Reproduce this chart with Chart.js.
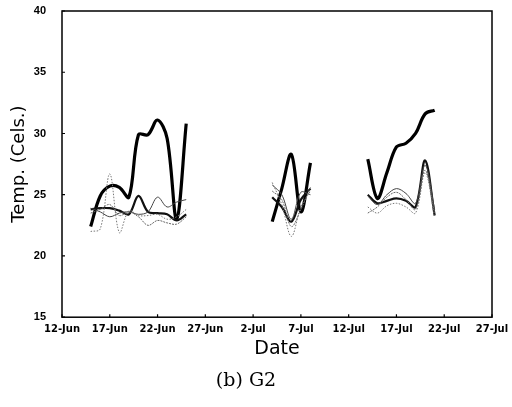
<!DOCTYPE html>
<html>
<head>
<meta charset="utf-8">
<script src="https://cdn.jsdelivr.net/npm/chart.js@4/dist/chart.umd.min.js"></script>
<style>
  html, body { margin: 0; padding: 0; background: #fff; }
  #chart { display: block; }
</style>
</head>
<body>
<canvas id="chart" width="512" height="407"></canvas>
<script>
// x = days after 12-Jun; the null rows split the three logging periods
const days = [3, 4, 5, 6, 7, 8, 9, 10, 11, 12, 13, 17, 22, 23, 24, 25, 26, 29, 32, 33, 34, 35, 36, 37, 38, 39];
const tickLabels = ['12-Jun', '17-Jun', '22-Jun', '27-Jun', '2-Jul', '7-Jul', '12-Jul', '17-Jul', '22-Jul', '27-Jul'];
const yTicks = [15, 20, 25, 30, 35, 40];

const sensorA = [22.4, 24.9, 25.7, 25.6, 24.8, 29.9, 29.9, 31.1, 29.6, 23.0, 30.8, null,
  22.8, 25.5, 28.3, 23.6, 27.6, null, 27.9, 24.7, 26.8, 28.9, 29.2, 30.0, 31.6, 31.9];
const sensorB = [23.8, 23.9, 23.9, 23.7, 23.4, 24.9, 23.6, 23.5, 23.4, 22.9, 23.4, null,
  24.8, 24.0, 22.8, 24.6, 25.5, null, 25.0, 24.3, 24.5, 24.7, 24.5, 24.0, 27.8, 23.3];
const sensorC = [23.9, 23.6, 23.2, 23.5, 23.6, 23.4, 23.6, 24.8, 24.0, 24.4, 24.6, null,
  25.8, 25.0, 23.0, 25.2, 25.0, null, 24.9, 24.2, 25.0, 25.5, 25.1, 24.3, 27.4, 23.8];
const sensorD = [22.0, 22.2, 26.7, 21.9, 23.7, 23.3, 23.3, 23.4, 23.0, 23.2, 23.8, null,
  26.0, 24.2, 21.6, 24.0, 25.3, null, 24.0, 23.5, 24.1, 24.3, 24.0, 23.5, 26.8, 23.2];
const sensorE = [23.5, 23.8, 24.2, 23.3, 23.6, 23.2, 22.5, 22.9, 22.7, 22.6, 23.2, null,
  25.3, 24.6, 22.4, 23.8, 25.6, null, 23.5, 24.0, 24.8, 25.2, 24.6, 23.8, 27.0, 23.5];

const pts = vals => vals.map((v, i) => ({ x: days[i], y: v }));

const line = (vals, color, width, dash) => ({
  data: pts(vals),
  borderColor: color,
  borderWidth: width,
  borderDash: dash || [],
  pointRadius: 0,
  tension: 0.35,
  spanGaps: false,
  fill: false
});

// plot frame and the small inward tick marks
const frame = {
  id: 'frame',
  afterDatasetsDraw(chart) {
    const { ctx, chartArea: a, scales: { x, y } } = chart;
    ctx.save();
    ctx.strokeStyle = '#000';
    ctx.lineWidth = 1.5;
    ctx.strokeRect(a.left, a.top, a.right - a.left, a.bottom - a.top);
    ctx.lineWidth = 1.2;
    ctx.beginPath();
    x.ticks.forEach(t => {
      const px = x.getPixelForValue(t.value);
      ctx.moveTo(px, a.bottom);
      ctx.lineTo(px, a.bottom - 3);
    });
    y.ticks.forEach(t => {
      const py = y.getPixelForValue(t.value);
      ctx.moveTo(a.left, py);
      ctx.lineTo(a.left + 3, py);
    });
    ctx.stroke();
    ctx.restore();
  }
};

new Chart(document.getElementById('chart'), {
  type: 'line',
  data: {
    datasets: [
      line(sensorE, '#666', 1, [2, 1]),
      line(sensorD, '#777', 1, [1.5, 1.5]),
      line(sensorC, '#444', 1),
      line(sensorB, '#111', 2.2),
      line(sensorA, '#000', 3.2)
    ]
  },
  plugins: [frame],
  options: {
    responsive: false,
    animation: false,
    layout: { padding: { top: 11, right: 20, left: 0, bottom: 0 } },
    plugins: {
      legend: { display: false },
      tooltip: { enabled: false },
      title: {
        display: true,
        position: 'bottom',
        text: '(b) G2',
        color: '#000',
        font: { family: 'DejaVu Serif', size: 19, weight: 'normal' },
        padding: { top: 4, bottom: 15 }
      }
    },
    scales: {
      x: {
        type: 'linear',
        min: 0,
        max: 45,
        grid: { display: false, drawTicks: false },
        border: { display: false },
        afterFit: s => { s.height = 48; s.paddingLeft = 0; s.paddingRight = 0; },
        ticks: {
          stepSize: 5,
          autoSkip: false,
          maxRotation: 0,
          padding: 6,
          color: '#000',
          font: { family: 'DejaVu Sans', size: 10, weight: 'bold' },
          callback: v => tickLabels[v / 5]
        },
        title: {
          display: true,
          text: 'Date',
          color: '#000',
          font: { family: 'DejaVu Sans', size: 19 },
          padding: { top: 0, bottom: 5 }
        }
      },
      y: {
        min: yTicks[0],
        max: yTicks[yTicks.length - 1],
        grid: { display: false, drawTicks: false },
        border: { display: false },
        afterFit: s => { s.width = 62; s.paddingTop = 0; s.paddingBottom = 0; },
        afterBuildTicks: s => { s.ticks = yTicks.map(v => ({ value: v })); },
        ticks: {
          padding: 16,
          color: '#000',
          font: { family: 'Liberation Sans', size: 11, weight: 'bold' }
        },
        title: {
          display: true,
          text: 'Temp. (Cels.)',
          color: '#000',
          font: { family: 'DejaVu Sans', size: 18 },
          padding: { top: 9, bottom: 0 }
        }
      }
    }
  }
});
</script>
</body>
</html>
